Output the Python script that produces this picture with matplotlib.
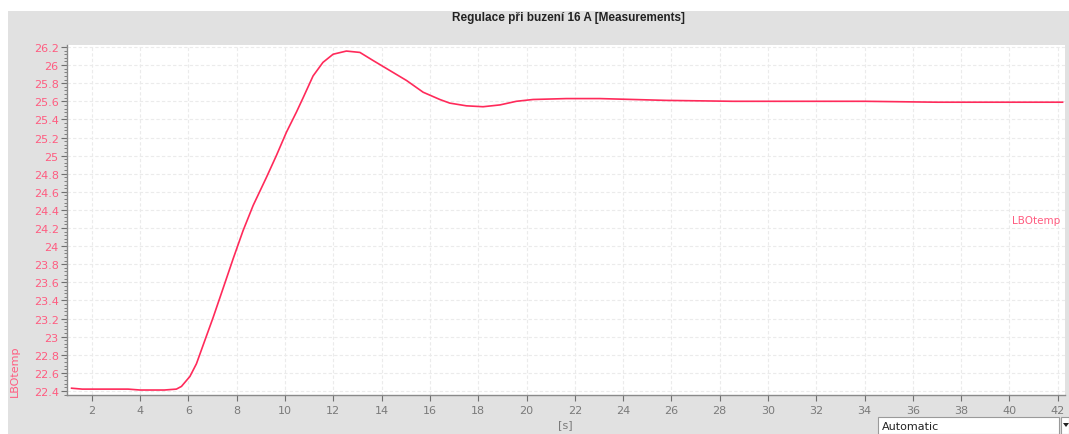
import matplotlib
matplotlib.use("Agg")
import matplotlib.pyplot as plt
from matplotlib.ticker import MultipleLocator, AutoMinorLocator, FuncFormatter
from matplotlib.patches import Rectangle, Polygon

# ---- data ----
time_s = [1.16, 1.6, 2.0, 2.5, 3.0, 3.5, 4.0, 4.5, 5.0, 5.5, 5.71, 6.06, 6.33, 6.6, 7.02,
          7.43, 7.85, 8.26, 8.68, 9.23, 9.64, 10.06, 10.47, 10.75, 11.16, 11.57, 11.99,
          12.54, 13.1, 13.65, 14.34, 15.03, 15.72, 16.41, 16.82, 17.51, 18.2, 18.9,
          19.58, 20.27, 21.65, 23.03, 24.41, 25.79, 28.55, 31.3, 34.0, 37.0, 40.0, 42.2]
lbo_temp = [22.43, 22.42, 22.42, 22.42, 22.42, 22.42, 22.41, 22.41, 22.41, 22.42, 22.45,
            22.56, 22.70, 22.90, 23.21, 23.53, 23.86, 24.17, 24.45, 24.76, 25.00, 25.26,
            25.48, 25.64, 25.88, 26.03, 26.12, 26.155, 26.14, 26.05, 25.94, 25.83, 25.70,
            25.62, 25.58, 25.55, 25.54, 25.56, 25.60, 25.62, 25.63, 25.63, 25.62, 25.61,
            25.60, 25.60, 25.60, 25.59, 25.59, 25.59]
series_name = "LBOtemp"
title = "Regulace při buzení 16 A [Measurements]"
x_label = "[s]"

W, H = 1069, 435
fig = plt.figure(figsize=(W / 100, H / 100), dpi=100)
fig.patch.set_facecolor("white")

def fx(px):
    return px / W

def fy(py):
    return 1 - py / H

# gray panel (behind everything)
fig.patches.append(Rectangle((fx(8), 0), 1 - fx(8), fy(12), transform=fig.transFigure,
                             facecolor="#e1e1e1", edgecolor="none", zorder=-10))

ax = fig.add_axes([fx(67), fy(396), fx(1065) - fx(67), fy(46) - fy(396)])
ax.set_facecolor("white")

line_color = "#ff2a5a"
label_color = "#ff5c80"
tick_color = "#7a7a7a"

ax.plot(time_s, lbo_temp, color=line_color, lw=1.2, zorder=3)

ax.set_xlim(0.97, 42.3)
ax.set_ylim(22.355, 26.222)

ax.xaxis.set_major_locator(MultipleLocator(2))
ax.yaxis.set_major_locator(MultipleLocator(0.2))
ax.yaxis.set_minor_locator(AutoMinorLocator(5))
ax.yaxis.set_major_formatter(FuncFormatter(lambda v, p: f"{round(v, 1):g}"))

ax.grid(True, which="major", color="#ebebeb", linestyle=(0, (3, 2)), lw=0.8, zorder=0)

for s in ["top", "right"]:
    ax.spines[s].set_visible(False)
ax.spines["left"].set_color("#8a8a8a")
ax.spines["bottom"].set_color("#8a8a8a")
ax.spines["left"].set_linewidth(1.0)
ax.spines["bottom"].set_linewidth(1.0)

ax.tick_params(axis="y", which="major", length=4, width=0.8, color="#707070",
               labelcolor=label_color, labelsize=8, pad=2)
ax.tick_params(axis="y", which="minor", length=2, width=0.6, color="#707070")
ax.tick_params(axis="x", which="major", length=4, width=0.8, color="#707070",
               labelcolor=tick_color, labelsize=8, pad=3)

fig.text(fx(15), fy(371), series_name, rotation=90, color=label_color, fontsize=8,
         ha="center", va="center")
fig.text(fx(1060), fy(221), series_name, color=label_color, fontsize=7.5,
         ha="right", va="center")
fig.text(fx(568), fy(18), title, color="#222222", fontsize=8.5, fontweight="bold",
         family="Liberation Sans", ha="center", va="center")
fig.text(fx(565), fy(425), x_label, color=tick_color, fontsize=8, ha="center", va="center")

# "Automatic" combo box
fig.patches.append(Rectangle((fx(878), 0), fx(1059) - fx(878), fy(418), transform=fig.transFigure,
                             facecolor="white", edgecolor="#9a9a9a", lw=0.8, zorder=2))
fig.patches.append(Rectangle((fx(1061), 0), fx(1069) - fx(1061), fy(418), transform=fig.transFigure,
                             facecolor="white", edgecolor="#9a9a9a", lw=0.8, zorder=2))
fig.patches.append(Polygon([(fx(1063), fy(424)), (fx(1069), fy(424)), (fx(1066), fy(428))],
                           closed=True, transform=fig.transFigure, facecolor="#222222",
                           edgecolor="none", zorder=3))
fig.text(fx(882), fy(427), "Automatic", color="#222222", fontsize=8, ha="left", va="center",
         zorder=4)

fig.savefig("out.png", dpi=100)
